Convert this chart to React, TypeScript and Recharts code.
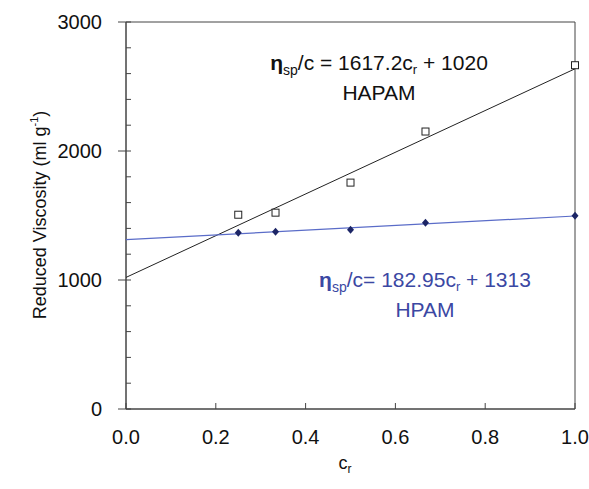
import { ScatterChart, Scatter, XAxis, YAxis, ReferenceArea } from 'recharts';

// measured points (reduced concentration c_r vs reduced viscosity)
const crValues = [0.25, 0.333, 0.5, 0.667, 1.0];
const hapamValues = [1506, 1522, 1755, 2151, 2665];
const hpamValues = [1366, 1374, 1390, 1444, 1498];

// linear fit endpoints, from the equations on the chart
const fitRange = [0, 1];
const hapamFitValues = [1020, 2637.2];
const hpamFitValues = [1313, 1495.95];

const xTicks = [0, 0.2, 0.4, 0.6, 0.8, 1.0];
const yTicks = [0, 200, 400, 600, 800, 1000, 1200, 1400, 1600, 1800, 2000, 2200, 2400, 2600, 2800, 3000];
const yLabelTicks = [0, 1000, 2000, 3000];

const FONT = '"Liberation Sans", Arial, sans-serif';
const AXIS = '#444';
const BLUE_TEXT = '#3b48a3';

const toPoints = (xs: number[], ys: number[]) => xs.map((x, i) => ({ x, y: ys[i] }));

const hapamData = toPoints(crValues, hapamValues);
const hpamData = toPoints(crValues, hpamValues);
const hapamFit = toPoints(fitRange, hapamFitValues);
const hpamFit = toPoints(fitRange, hpamFitValues);

function XTick(props: any) {
  const { x, y, payload } = props;
  return (
    <g>
      <line x1={x} x2={x} y1={y} y2={y - 6} stroke={AXIS} />
      <text x={x} y={y + 35} textAnchor="middle" fontSize={20} fill="#111" fontFamily={FONT}>
        {Number(payload.value).toFixed(1)}
      </text>
    </g>
  );
}

function YTick(props: any) {
  const { x, y, payload } = props;
  const major = yLabelTicks.includes(payload.value);
  return (
    <g>
      <line x1={major ? x - 8 : x} x2={x + 5} y1={y} y2={y} stroke={AXIS} />
      {major && (
        <text x={x - 24} y={y + 7} textAnchor="end" fontSize={20} fill="#111" fontFamily={FONT}>
          {payload.value}
        </text>
      )}
    </g>
  );
}

const noDot = () => null;

const OpenSquare = (p: any) => (
  <rect x={p.cx - 3.5} y={p.cy - 3.5} width={7} height={7} fill="#fff" stroke="#222" strokeWidth={1} />
);

const Diamond = (p: any) => (
  <path
    d={`M${p.cx},${p.cy - 4} L${p.cx + 3.5},${p.cy} L${p.cx},${p.cy + 4} L${p.cx - 3.5},${p.cy} Z`}
    fill="#1c2566"
  />
);

export default function App() {
  return (
    <div style={{ position: 'absolute', left: 0, top: 0, width: 589, height: 489, background: '#fff' }}>
      <ScatterChart width={589} height={489} margin={{ top: 22, right: 14, bottom: 50, left: 66 }}>
        <XAxis
          type="number"
          dataKey="x"
          domain={[0, 1]}
          ticks={xTicks}
          tickSize={0}
          tickMargin={0}
          tickLine={false}
          tick={<XTick />}
          height={30}
          axisLine={{ stroke: AXIS }}
          interval={0}
        />
        <YAxis
          type="number"
          dataKey="y"
          domain={[0, 3000]}
          ticks={yTicks}
          tickSize={0}
          tickMargin={0}
          tickLine={false}
          tick={<YTick />}
          width={60}
          axisLine={{ stroke: AXIS }}
          interval={0}
        />
        <ReferenceArea x1={0} x2={1} y1={0} y2={3000} fill="none" stroke={AXIS} strokeWidth={1} ifOverflow="visible" />
        <Scatter data={hapamFit} line={{ stroke: '#222', strokeWidth: 1 }} shape={noDot} isAnimationActive={false} />
        <Scatter data={hpamFit} line={{ stroke: '#5a6cc8', strokeWidth: 1.2 }} shape={noDot} isAnimationActive={false} />
        <Scatter data={hapamData} shape={OpenSquare} isAnimationActive={false} />
        <Scatter data={hpamData} shape={Diamond} isAnimationActive={false} />
      </ScatterChart>
      <svg width={589} height={489} style={{ position: 'absolute', left: 0, top: 0, pointerEvents: 'none' }} fontFamily={FONT}>
        <text x={379} y={70} textAnchor="middle" fontSize={21} fill="#111">
          <tspan fontWeight="bold">η</tspan>
          <tspan fontSize={14} dy={5}>sp</tspan>
          <tspan dy={-5}>/c = 1617.2c</tspan>
          <tspan fontSize={13} dy={4}>r</tspan>
          <tspan dy={-4}> + 1020</tspan>
        </text>
        <text x={379} y={100} textAnchor="middle" fontSize={21} fill="#111">HAPAM</text>
        <text x={425} y={287} textAnchor="middle" fontSize={21} fill={BLUE_TEXT}>
          <tspan fontWeight="bold">η</tspan>
          <tspan fontSize={14} dy={5}>sp</tspan>
          <tspan dy={-5}>/c= 182.95c</tspan>
          <tspan fontSize={13} dy={4}>r</tspan>
          <tspan dy={-4}> + 1313</tspan>
        </text>
        <text x={425} y={317} textAnchor="middle" fontSize={21} fill={BLUE_TEXT}>HPAM</text>
        <text x={0} y={0} transform="translate(46,215) rotate(-90)" textAnchor="middle" fontSize={18} fill="#111">
          Reduced Viscosity (ml g
          <tspan fontSize={11} dy={-8}>-1</tspan>
          <tspan dy={8}>)</tspan>
        </text>
        <text x={345} y={469} textAnchor="middle" fontSize={18} fill="#111">
          c<tspan fontSize={12} dy={4}>r</tspan>
        </text>
      </svg>
    </div>
  );
}
